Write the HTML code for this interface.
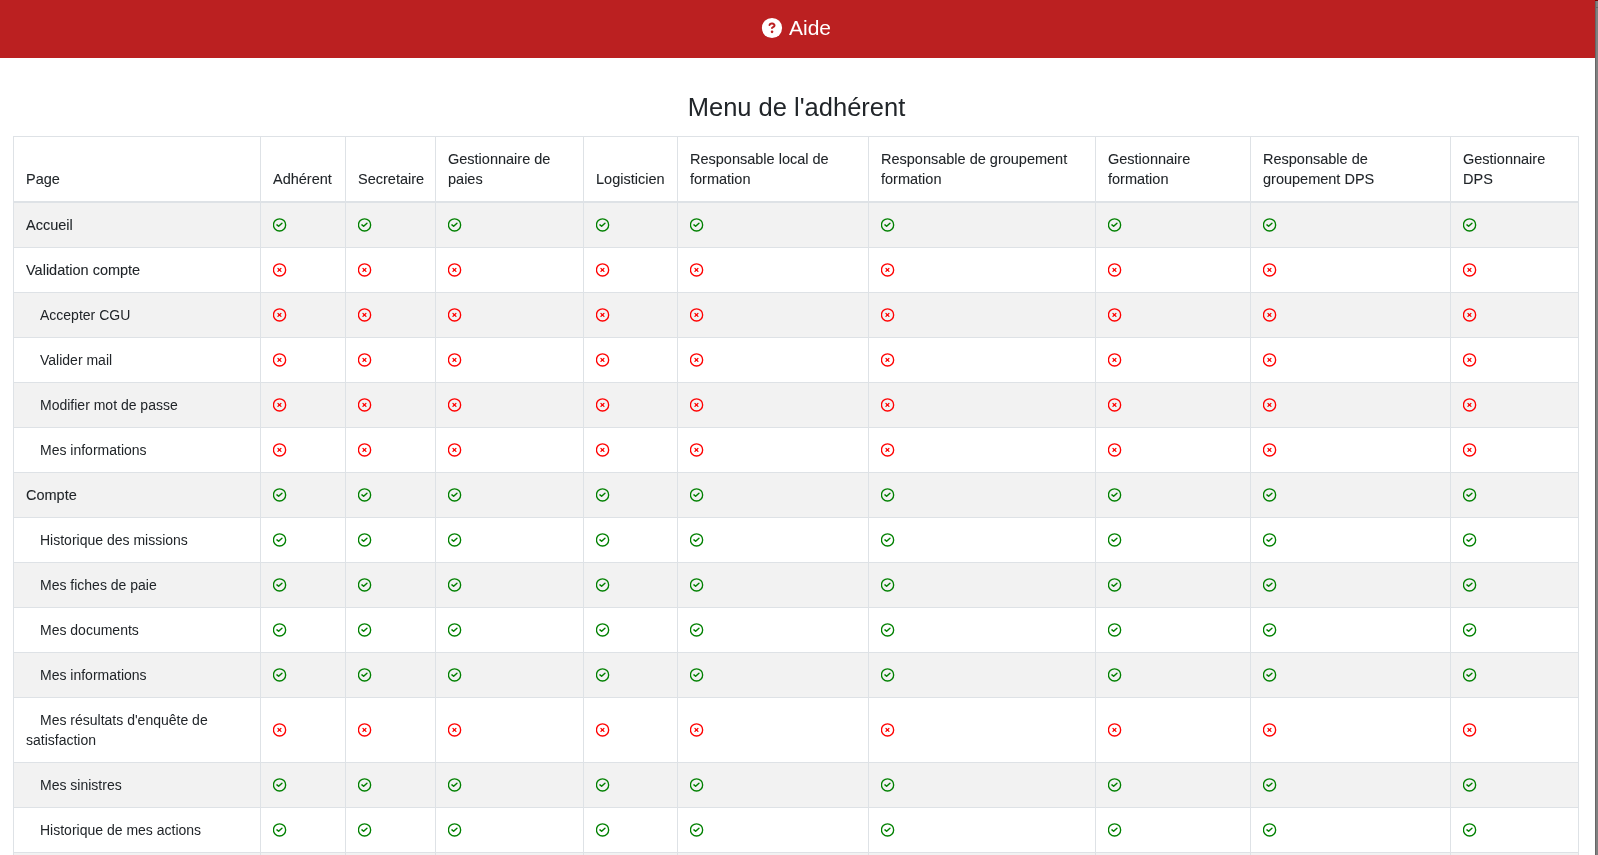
<!DOCTYPE html><html><head><meta charset="utf-8"><title>Aide</title><style>
*{box-sizing:border-box}
html,body{margin:0;padding:0;background:#fff;overflow:hidden}
body{width:1598px;height:855px;position:relative;font-family:"Liberation Sans",sans-serif;color:#212529;font-size:14px;line-height:20px}
.hdr{position:absolute;left:0;top:0;width:1595px;height:58px;background:#bb2021;color:#fff}
.hdr .q{position:absolute;left:760.7px;top:16.65px;width:22px;height:22px}
.hdr .t{will-change:transform;position:absolute;left:789px;top:14px;font-size:21px;line-height:28px;white-space:nowrap}
.sb{position:absolute;left:1595px;top:0;width:3px;height:855px;background:#808080;border-left:1px solid #666}
.sbt{position:absolute;left:1595px;top:0;width:3px;height:1px;background:#7a0000}
.sbl{position:absolute;left:1595px;top:7px;width:3px;height:1px;background:#666}
h1{position:absolute;left:-1px;width:1595px;top:90px;margin:0;text-align:center;font-weight:400;font-size:25.5px;line-height:34px;color:#212529;will-change:transform}
table{will-change:transform;position:absolute;left:13px;top:136px;border-collapse:collapse;table-layout:fixed;width:1566px}
td,th{border:1px solid #dee2e6;padding:12px 12px;vertical-align:middle;text-align:left;font-weight:400;white-space:nowrap;overflow:hidden}
th{vertical-align:bottom;border-bottom:2px solid #dee2e6;font-size:14.5px}
tbody tr:nth-child(odd) td{background:#f2f2f2}
.ic{display:block;width:14px;height:14px}
.in{text-indent:14px}
.b,th{-webkit-text-stroke:0.08px #212529}
.b{font-size:14.5px}
</style></head><body>
<div class="hdr"><svg class="q" viewBox="-11 -11 22 22"><circle cx="0" cy="0" r="10.1" fill="#fff"/><path d="M -2.5 -2.9 C -2.1 -4.3 -0.9 -4.6 0.2 -4.5 C 1.6 -4.4 2.6 -3.6 2.5 -2.4 C 2.4 -1.0 0.0 -0.9 0.0 0.1" fill="none" stroke="#bb2021" stroke-width="2" stroke-linecap="round" stroke-linejoin="round"/><circle cx="0.05" cy="3.85" r="1.3" fill="#bb2021"/></svg><span class="t">Aide</span></div>
<h1>Menu de l'adhérent</h1>
<table><colgroup><col style="width:247px"><col style="width:85px"><col style="width:90px"><col style="width:148px"><col style="width:94px"><col style="width:191px"><col style="width:227px"><col style="width:155px"><col style="width:200px"><col style="width:128px"></colgroup><thead><tr>
<th>Page</th>
<th>Adhérent</th>
<th>Secretaire</th>
<th>Gestionnaire de<br>paies</th>
<th>Logisticien</th>
<th>Responsable local de<br>formation</th>
<th>Responsable de groupement<br>formation</th>
<th>Gestionnaire<br>formation</th>
<th>Responsable de<br>groupement DPS</th>
<th>Gestionnaire<br>DPS</th>
</tr></thead><tbody>
<tr><td class="b">Accueil</td><td><svg class="ic" viewBox="0 0 14 14"><circle cx="6.55" cy="6.9" r="6.1" fill="none" stroke="#008000" stroke-width="1.35"/><path d="M3.95 6.85 L5.65 8.3 L8.95 5.3" fill="none" stroke="#008000" stroke-width="1.45" stroke-linecap="round" stroke-linejoin="round"/></svg></td><td><svg class="ic" viewBox="0 0 14 14"><circle cx="6.55" cy="6.9" r="6.1" fill="none" stroke="#008000" stroke-width="1.35"/><path d="M3.95 6.85 L5.65 8.3 L8.95 5.3" fill="none" stroke="#008000" stroke-width="1.45" stroke-linecap="round" stroke-linejoin="round"/></svg></td><td><svg class="ic" viewBox="0 0 14 14"><circle cx="6.55" cy="6.9" r="6.1" fill="none" stroke="#008000" stroke-width="1.35"/><path d="M3.95 6.85 L5.65 8.3 L8.95 5.3" fill="none" stroke="#008000" stroke-width="1.45" stroke-linecap="round" stroke-linejoin="round"/></svg></td><td><svg class="ic" viewBox="0 0 14 14"><circle cx="6.55" cy="6.9" r="6.1" fill="none" stroke="#008000" stroke-width="1.35"/><path d="M3.95 6.85 L5.65 8.3 L8.95 5.3" fill="none" stroke="#008000" stroke-width="1.45" stroke-linecap="round" stroke-linejoin="round"/></svg></td><td><svg class="ic" viewBox="0 0 14 14"><circle cx="6.55" cy="6.9" r="6.1" fill="none" stroke="#008000" stroke-width="1.35"/><path d="M3.95 6.85 L5.65 8.3 L8.95 5.3" fill="none" stroke="#008000" stroke-width="1.45" stroke-linecap="round" stroke-linejoin="round"/></svg></td><td><svg class="ic" viewBox="0 0 14 14"><circle cx="6.55" cy="6.9" r="6.1" fill="none" stroke="#008000" stroke-width="1.35"/><path d="M3.95 6.85 L5.65 8.3 L8.95 5.3" fill="none" stroke="#008000" stroke-width="1.45" stroke-linecap="round" stroke-linejoin="round"/></svg></td><td><svg class="ic" viewBox="0 0 14 14"><circle cx="6.55" cy="6.9" r="6.1" fill="none" stroke="#008000" stroke-width="1.35"/><path d="M3.95 6.85 L5.65 8.3 L8.95 5.3" fill="none" stroke="#008000" stroke-width="1.45" stroke-linecap="round" stroke-linejoin="round"/></svg></td><td><svg class="ic" viewBox="0 0 14 14"><circle cx="6.55" cy="6.9" r="6.1" fill="none" stroke="#008000" stroke-width="1.35"/><path d="M3.95 6.85 L5.65 8.3 L8.95 5.3" fill="none" stroke="#008000" stroke-width="1.45" stroke-linecap="round" stroke-linejoin="round"/></svg></td><td><svg class="ic" viewBox="0 0 14 14"><circle cx="6.55" cy="6.9" r="6.1" fill="none" stroke="#008000" stroke-width="1.35"/><path d="M3.95 6.85 L5.65 8.3 L8.95 5.3" fill="none" stroke="#008000" stroke-width="1.45" stroke-linecap="round" stroke-linejoin="round"/></svg></td></tr>
<tr><td class="b">Validation compte</td><td><svg class="ic" viewBox="0 0 14 14"><circle cx="6.55" cy="6.9" r="6.1" fill="none" stroke="#ff0000" stroke-width="1.35"/><path d="M4.95 5.4 L7.95 8.4 M7.95 5.4 L4.95 8.4" fill="none" stroke="#ff0000" stroke-width="1.3" stroke-linecap="round"/></svg></td><td><svg class="ic" viewBox="0 0 14 14"><circle cx="6.55" cy="6.9" r="6.1" fill="none" stroke="#ff0000" stroke-width="1.35"/><path d="M4.95 5.4 L7.95 8.4 M7.95 5.4 L4.95 8.4" fill="none" stroke="#ff0000" stroke-width="1.3" stroke-linecap="round"/></svg></td><td><svg class="ic" viewBox="0 0 14 14"><circle cx="6.55" cy="6.9" r="6.1" fill="none" stroke="#ff0000" stroke-width="1.35"/><path d="M4.95 5.4 L7.95 8.4 M7.95 5.4 L4.95 8.4" fill="none" stroke="#ff0000" stroke-width="1.3" stroke-linecap="round"/></svg></td><td><svg class="ic" viewBox="0 0 14 14"><circle cx="6.55" cy="6.9" r="6.1" fill="none" stroke="#ff0000" stroke-width="1.35"/><path d="M4.95 5.4 L7.95 8.4 M7.95 5.4 L4.95 8.4" fill="none" stroke="#ff0000" stroke-width="1.3" stroke-linecap="round"/></svg></td><td><svg class="ic" viewBox="0 0 14 14"><circle cx="6.55" cy="6.9" r="6.1" fill="none" stroke="#ff0000" stroke-width="1.35"/><path d="M4.95 5.4 L7.95 8.4 M7.95 5.4 L4.95 8.4" fill="none" stroke="#ff0000" stroke-width="1.3" stroke-linecap="round"/></svg></td><td><svg class="ic" viewBox="0 0 14 14"><circle cx="6.55" cy="6.9" r="6.1" fill="none" stroke="#ff0000" stroke-width="1.35"/><path d="M4.95 5.4 L7.95 8.4 M7.95 5.4 L4.95 8.4" fill="none" stroke="#ff0000" stroke-width="1.3" stroke-linecap="round"/></svg></td><td><svg class="ic" viewBox="0 0 14 14"><circle cx="6.55" cy="6.9" r="6.1" fill="none" stroke="#ff0000" stroke-width="1.35"/><path d="M4.95 5.4 L7.95 8.4 M7.95 5.4 L4.95 8.4" fill="none" stroke="#ff0000" stroke-width="1.3" stroke-linecap="round"/></svg></td><td><svg class="ic" viewBox="0 0 14 14"><circle cx="6.55" cy="6.9" r="6.1" fill="none" stroke="#ff0000" stroke-width="1.35"/><path d="M4.95 5.4 L7.95 8.4 M7.95 5.4 L4.95 8.4" fill="none" stroke="#ff0000" stroke-width="1.3" stroke-linecap="round"/></svg></td><td><svg class="ic" viewBox="0 0 14 14"><circle cx="6.55" cy="6.9" r="6.1" fill="none" stroke="#ff0000" stroke-width="1.35"/><path d="M4.95 5.4 L7.95 8.4 M7.95 5.4 L4.95 8.4" fill="none" stroke="#ff0000" stroke-width="1.3" stroke-linecap="round"/></svg></td></tr>
<tr><td class="in">Accepter CGU</td><td><svg class="ic" viewBox="0 0 14 14"><circle cx="6.55" cy="6.9" r="6.1" fill="none" stroke="#ff0000" stroke-width="1.35"/><path d="M4.95 5.4 L7.95 8.4 M7.95 5.4 L4.95 8.4" fill="none" stroke="#ff0000" stroke-width="1.3" stroke-linecap="round"/></svg></td><td><svg class="ic" viewBox="0 0 14 14"><circle cx="6.55" cy="6.9" r="6.1" fill="none" stroke="#ff0000" stroke-width="1.35"/><path d="M4.95 5.4 L7.95 8.4 M7.95 5.4 L4.95 8.4" fill="none" stroke="#ff0000" stroke-width="1.3" stroke-linecap="round"/></svg></td><td><svg class="ic" viewBox="0 0 14 14"><circle cx="6.55" cy="6.9" r="6.1" fill="none" stroke="#ff0000" stroke-width="1.35"/><path d="M4.95 5.4 L7.95 8.4 M7.95 5.4 L4.95 8.4" fill="none" stroke="#ff0000" stroke-width="1.3" stroke-linecap="round"/></svg></td><td><svg class="ic" viewBox="0 0 14 14"><circle cx="6.55" cy="6.9" r="6.1" fill="none" stroke="#ff0000" stroke-width="1.35"/><path d="M4.95 5.4 L7.95 8.4 M7.95 5.4 L4.95 8.4" fill="none" stroke="#ff0000" stroke-width="1.3" stroke-linecap="round"/></svg></td><td><svg class="ic" viewBox="0 0 14 14"><circle cx="6.55" cy="6.9" r="6.1" fill="none" stroke="#ff0000" stroke-width="1.35"/><path d="M4.95 5.4 L7.95 8.4 M7.95 5.4 L4.95 8.4" fill="none" stroke="#ff0000" stroke-width="1.3" stroke-linecap="round"/></svg></td><td><svg class="ic" viewBox="0 0 14 14"><circle cx="6.55" cy="6.9" r="6.1" fill="none" stroke="#ff0000" stroke-width="1.35"/><path d="M4.95 5.4 L7.95 8.4 M7.95 5.4 L4.95 8.4" fill="none" stroke="#ff0000" stroke-width="1.3" stroke-linecap="round"/></svg></td><td><svg class="ic" viewBox="0 0 14 14"><circle cx="6.55" cy="6.9" r="6.1" fill="none" stroke="#ff0000" stroke-width="1.35"/><path d="M4.95 5.4 L7.95 8.4 M7.95 5.4 L4.95 8.4" fill="none" stroke="#ff0000" stroke-width="1.3" stroke-linecap="round"/></svg></td><td><svg class="ic" viewBox="0 0 14 14"><circle cx="6.55" cy="6.9" r="6.1" fill="none" stroke="#ff0000" stroke-width="1.35"/><path d="M4.95 5.4 L7.95 8.4 M7.95 5.4 L4.95 8.4" fill="none" stroke="#ff0000" stroke-width="1.3" stroke-linecap="round"/></svg></td><td><svg class="ic" viewBox="0 0 14 14"><circle cx="6.55" cy="6.9" r="6.1" fill="none" stroke="#ff0000" stroke-width="1.35"/><path d="M4.95 5.4 L7.95 8.4 M7.95 5.4 L4.95 8.4" fill="none" stroke="#ff0000" stroke-width="1.3" stroke-linecap="round"/></svg></td></tr>
<tr><td class="in">Valider mail</td><td><svg class="ic" viewBox="0 0 14 14"><circle cx="6.55" cy="6.9" r="6.1" fill="none" stroke="#ff0000" stroke-width="1.35"/><path d="M4.95 5.4 L7.95 8.4 M7.95 5.4 L4.95 8.4" fill="none" stroke="#ff0000" stroke-width="1.3" stroke-linecap="round"/></svg></td><td><svg class="ic" viewBox="0 0 14 14"><circle cx="6.55" cy="6.9" r="6.1" fill="none" stroke="#ff0000" stroke-width="1.35"/><path d="M4.95 5.4 L7.95 8.4 M7.95 5.4 L4.95 8.4" fill="none" stroke="#ff0000" stroke-width="1.3" stroke-linecap="round"/></svg></td><td><svg class="ic" viewBox="0 0 14 14"><circle cx="6.55" cy="6.9" r="6.1" fill="none" stroke="#ff0000" stroke-width="1.35"/><path d="M4.95 5.4 L7.95 8.4 M7.95 5.4 L4.95 8.4" fill="none" stroke="#ff0000" stroke-width="1.3" stroke-linecap="round"/></svg></td><td><svg class="ic" viewBox="0 0 14 14"><circle cx="6.55" cy="6.9" r="6.1" fill="none" stroke="#ff0000" stroke-width="1.35"/><path d="M4.95 5.4 L7.95 8.4 M7.95 5.4 L4.95 8.4" fill="none" stroke="#ff0000" stroke-width="1.3" stroke-linecap="round"/></svg></td><td><svg class="ic" viewBox="0 0 14 14"><circle cx="6.55" cy="6.9" r="6.1" fill="none" stroke="#ff0000" stroke-width="1.35"/><path d="M4.95 5.4 L7.95 8.4 M7.95 5.4 L4.95 8.4" fill="none" stroke="#ff0000" stroke-width="1.3" stroke-linecap="round"/></svg></td><td><svg class="ic" viewBox="0 0 14 14"><circle cx="6.55" cy="6.9" r="6.1" fill="none" stroke="#ff0000" stroke-width="1.35"/><path d="M4.95 5.4 L7.95 8.4 M7.95 5.4 L4.95 8.4" fill="none" stroke="#ff0000" stroke-width="1.3" stroke-linecap="round"/></svg></td><td><svg class="ic" viewBox="0 0 14 14"><circle cx="6.55" cy="6.9" r="6.1" fill="none" stroke="#ff0000" stroke-width="1.35"/><path d="M4.95 5.4 L7.95 8.4 M7.95 5.4 L4.95 8.4" fill="none" stroke="#ff0000" stroke-width="1.3" stroke-linecap="round"/></svg></td><td><svg class="ic" viewBox="0 0 14 14"><circle cx="6.55" cy="6.9" r="6.1" fill="none" stroke="#ff0000" stroke-width="1.35"/><path d="M4.95 5.4 L7.95 8.4 M7.95 5.4 L4.95 8.4" fill="none" stroke="#ff0000" stroke-width="1.3" stroke-linecap="round"/></svg></td><td><svg class="ic" viewBox="0 0 14 14"><circle cx="6.55" cy="6.9" r="6.1" fill="none" stroke="#ff0000" stroke-width="1.35"/><path d="M4.95 5.4 L7.95 8.4 M7.95 5.4 L4.95 8.4" fill="none" stroke="#ff0000" stroke-width="1.3" stroke-linecap="round"/></svg></td></tr>
<tr><td class="in">Modifier mot de passe</td><td><svg class="ic" viewBox="0 0 14 14"><circle cx="6.55" cy="6.9" r="6.1" fill="none" stroke="#ff0000" stroke-width="1.35"/><path d="M4.95 5.4 L7.95 8.4 M7.95 5.4 L4.95 8.4" fill="none" stroke="#ff0000" stroke-width="1.3" stroke-linecap="round"/></svg></td><td><svg class="ic" viewBox="0 0 14 14"><circle cx="6.55" cy="6.9" r="6.1" fill="none" stroke="#ff0000" stroke-width="1.35"/><path d="M4.95 5.4 L7.95 8.4 M7.95 5.4 L4.95 8.4" fill="none" stroke="#ff0000" stroke-width="1.3" stroke-linecap="round"/></svg></td><td><svg class="ic" viewBox="0 0 14 14"><circle cx="6.55" cy="6.9" r="6.1" fill="none" stroke="#ff0000" stroke-width="1.35"/><path d="M4.95 5.4 L7.95 8.4 M7.95 5.4 L4.95 8.4" fill="none" stroke="#ff0000" stroke-width="1.3" stroke-linecap="round"/></svg></td><td><svg class="ic" viewBox="0 0 14 14"><circle cx="6.55" cy="6.9" r="6.1" fill="none" stroke="#ff0000" stroke-width="1.35"/><path d="M4.95 5.4 L7.95 8.4 M7.95 5.4 L4.95 8.4" fill="none" stroke="#ff0000" stroke-width="1.3" stroke-linecap="round"/></svg></td><td><svg class="ic" viewBox="0 0 14 14"><circle cx="6.55" cy="6.9" r="6.1" fill="none" stroke="#ff0000" stroke-width="1.35"/><path d="M4.95 5.4 L7.95 8.4 M7.95 5.4 L4.95 8.4" fill="none" stroke="#ff0000" stroke-width="1.3" stroke-linecap="round"/></svg></td><td><svg class="ic" viewBox="0 0 14 14"><circle cx="6.55" cy="6.9" r="6.1" fill="none" stroke="#ff0000" stroke-width="1.35"/><path d="M4.95 5.4 L7.95 8.4 M7.95 5.4 L4.95 8.4" fill="none" stroke="#ff0000" stroke-width="1.3" stroke-linecap="round"/></svg></td><td><svg class="ic" viewBox="0 0 14 14"><circle cx="6.55" cy="6.9" r="6.1" fill="none" stroke="#ff0000" stroke-width="1.35"/><path d="M4.95 5.4 L7.95 8.4 M7.95 5.4 L4.95 8.4" fill="none" stroke="#ff0000" stroke-width="1.3" stroke-linecap="round"/></svg></td><td><svg class="ic" viewBox="0 0 14 14"><circle cx="6.55" cy="6.9" r="6.1" fill="none" stroke="#ff0000" stroke-width="1.35"/><path d="M4.95 5.4 L7.95 8.4 M7.95 5.4 L4.95 8.4" fill="none" stroke="#ff0000" stroke-width="1.3" stroke-linecap="round"/></svg></td><td><svg class="ic" viewBox="0 0 14 14"><circle cx="6.55" cy="6.9" r="6.1" fill="none" stroke="#ff0000" stroke-width="1.35"/><path d="M4.95 5.4 L7.95 8.4 M7.95 5.4 L4.95 8.4" fill="none" stroke="#ff0000" stroke-width="1.3" stroke-linecap="round"/></svg></td></tr>
<tr><td class="in">Mes informations</td><td><svg class="ic" viewBox="0 0 14 14"><circle cx="6.55" cy="6.9" r="6.1" fill="none" stroke="#ff0000" stroke-width="1.35"/><path d="M4.95 5.4 L7.95 8.4 M7.95 5.4 L4.95 8.4" fill="none" stroke="#ff0000" stroke-width="1.3" stroke-linecap="round"/></svg></td><td><svg class="ic" viewBox="0 0 14 14"><circle cx="6.55" cy="6.9" r="6.1" fill="none" stroke="#ff0000" stroke-width="1.35"/><path d="M4.95 5.4 L7.95 8.4 M7.95 5.4 L4.95 8.4" fill="none" stroke="#ff0000" stroke-width="1.3" stroke-linecap="round"/></svg></td><td><svg class="ic" viewBox="0 0 14 14"><circle cx="6.55" cy="6.9" r="6.1" fill="none" stroke="#ff0000" stroke-width="1.35"/><path d="M4.95 5.4 L7.95 8.4 M7.95 5.4 L4.95 8.4" fill="none" stroke="#ff0000" stroke-width="1.3" stroke-linecap="round"/></svg></td><td><svg class="ic" viewBox="0 0 14 14"><circle cx="6.55" cy="6.9" r="6.1" fill="none" stroke="#ff0000" stroke-width="1.35"/><path d="M4.95 5.4 L7.95 8.4 M7.95 5.4 L4.95 8.4" fill="none" stroke="#ff0000" stroke-width="1.3" stroke-linecap="round"/></svg></td><td><svg class="ic" viewBox="0 0 14 14"><circle cx="6.55" cy="6.9" r="6.1" fill="none" stroke="#ff0000" stroke-width="1.35"/><path d="M4.95 5.4 L7.95 8.4 M7.95 5.4 L4.95 8.4" fill="none" stroke="#ff0000" stroke-width="1.3" stroke-linecap="round"/></svg></td><td><svg class="ic" viewBox="0 0 14 14"><circle cx="6.55" cy="6.9" r="6.1" fill="none" stroke="#ff0000" stroke-width="1.35"/><path d="M4.95 5.4 L7.95 8.4 M7.95 5.4 L4.95 8.4" fill="none" stroke="#ff0000" stroke-width="1.3" stroke-linecap="round"/></svg></td><td><svg class="ic" viewBox="0 0 14 14"><circle cx="6.55" cy="6.9" r="6.1" fill="none" stroke="#ff0000" stroke-width="1.35"/><path d="M4.95 5.4 L7.95 8.4 M7.95 5.4 L4.95 8.4" fill="none" stroke="#ff0000" stroke-width="1.3" stroke-linecap="round"/></svg></td><td><svg class="ic" viewBox="0 0 14 14"><circle cx="6.55" cy="6.9" r="6.1" fill="none" stroke="#ff0000" stroke-width="1.35"/><path d="M4.95 5.4 L7.95 8.4 M7.95 5.4 L4.95 8.4" fill="none" stroke="#ff0000" stroke-width="1.3" stroke-linecap="round"/></svg></td><td><svg class="ic" viewBox="0 0 14 14"><circle cx="6.55" cy="6.9" r="6.1" fill="none" stroke="#ff0000" stroke-width="1.35"/><path d="M4.95 5.4 L7.95 8.4 M7.95 5.4 L4.95 8.4" fill="none" stroke="#ff0000" stroke-width="1.3" stroke-linecap="round"/></svg></td></tr>
<tr><td class="b">Compte</td><td><svg class="ic" viewBox="0 0 14 14"><circle cx="6.55" cy="6.9" r="6.1" fill="none" stroke="#008000" stroke-width="1.35"/><path d="M3.95 6.85 L5.65 8.3 L8.95 5.3" fill="none" stroke="#008000" stroke-width="1.45" stroke-linecap="round" stroke-linejoin="round"/></svg></td><td><svg class="ic" viewBox="0 0 14 14"><circle cx="6.55" cy="6.9" r="6.1" fill="none" stroke="#008000" stroke-width="1.35"/><path d="M3.95 6.85 L5.65 8.3 L8.95 5.3" fill="none" stroke="#008000" stroke-width="1.45" stroke-linecap="round" stroke-linejoin="round"/></svg></td><td><svg class="ic" viewBox="0 0 14 14"><circle cx="6.55" cy="6.9" r="6.1" fill="none" stroke="#008000" stroke-width="1.35"/><path d="M3.95 6.85 L5.65 8.3 L8.95 5.3" fill="none" stroke="#008000" stroke-width="1.45" stroke-linecap="round" stroke-linejoin="round"/></svg></td><td><svg class="ic" viewBox="0 0 14 14"><circle cx="6.55" cy="6.9" r="6.1" fill="none" stroke="#008000" stroke-width="1.35"/><path d="M3.95 6.85 L5.65 8.3 L8.95 5.3" fill="none" stroke="#008000" stroke-width="1.45" stroke-linecap="round" stroke-linejoin="round"/></svg></td><td><svg class="ic" viewBox="0 0 14 14"><circle cx="6.55" cy="6.9" r="6.1" fill="none" stroke="#008000" stroke-width="1.35"/><path d="M3.95 6.85 L5.65 8.3 L8.95 5.3" fill="none" stroke="#008000" stroke-width="1.45" stroke-linecap="round" stroke-linejoin="round"/></svg></td><td><svg class="ic" viewBox="0 0 14 14"><circle cx="6.55" cy="6.9" r="6.1" fill="none" stroke="#008000" stroke-width="1.35"/><path d="M3.95 6.85 L5.65 8.3 L8.95 5.3" fill="none" stroke="#008000" stroke-width="1.45" stroke-linecap="round" stroke-linejoin="round"/></svg></td><td><svg class="ic" viewBox="0 0 14 14"><circle cx="6.55" cy="6.9" r="6.1" fill="none" stroke="#008000" stroke-width="1.35"/><path d="M3.95 6.85 L5.65 8.3 L8.95 5.3" fill="none" stroke="#008000" stroke-width="1.45" stroke-linecap="round" stroke-linejoin="round"/></svg></td><td><svg class="ic" viewBox="0 0 14 14"><circle cx="6.55" cy="6.9" r="6.1" fill="none" stroke="#008000" stroke-width="1.35"/><path d="M3.95 6.85 L5.65 8.3 L8.95 5.3" fill="none" stroke="#008000" stroke-width="1.45" stroke-linecap="round" stroke-linejoin="round"/></svg></td><td><svg class="ic" viewBox="0 0 14 14"><circle cx="6.55" cy="6.9" r="6.1" fill="none" stroke="#008000" stroke-width="1.35"/><path d="M3.95 6.85 L5.65 8.3 L8.95 5.3" fill="none" stroke="#008000" stroke-width="1.45" stroke-linecap="round" stroke-linejoin="round"/></svg></td></tr>
<tr><td class="in">Historique des missions</td><td><svg class="ic" viewBox="0 0 14 14"><circle cx="6.55" cy="6.9" r="6.1" fill="none" stroke="#008000" stroke-width="1.35"/><path d="M3.95 6.85 L5.65 8.3 L8.95 5.3" fill="none" stroke="#008000" stroke-width="1.45" stroke-linecap="round" stroke-linejoin="round"/></svg></td><td><svg class="ic" viewBox="0 0 14 14"><circle cx="6.55" cy="6.9" r="6.1" fill="none" stroke="#008000" stroke-width="1.35"/><path d="M3.95 6.85 L5.65 8.3 L8.95 5.3" fill="none" stroke="#008000" stroke-width="1.45" stroke-linecap="round" stroke-linejoin="round"/></svg></td><td><svg class="ic" viewBox="0 0 14 14"><circle cx="6.55" cy="6.9" r="6.1" fill="none" stroke="#008000" stroke-width="1.35"/><path d="M3.95 6.85 L5.65 8.3 L8.95 5.3" fill="none" stroke="#008000" stroke-width="1.45" stroke-linecap="round" stroke-linejoin="round"/></svg></td><td><svg class="ic" viewBox="0 0 14 14"><circle cx="6.55" cy="6.9" r="6.1" fill="none" stroke="#008000" stroke-width="1.35"/><path d="M3.95 6.85 L5.65 8.3 L8.95 5.3" fill="none" stroke="#008000" stroke-width="1.45" stroke-linecap="round" stroke-linejoin="round"/></svg></td><td><svg class="ic" viewBox="0 0 14 14"><circle cx="6.55" cy="6.9" r="6.1" fill="none" stroke="#008000" stroke-width="1.35"/><path d="M3.95 6.85 L5.65 8.3 L8.95 5.3" fill="none" stroke="#008000" stroke-width="1.45" stroke-linecap="round" stroke-linejoin="round"/></svg></td><td><svg class="ic" viewBox="0 0 14 14"><circle cx="6.55" cy="6.9" r="6.1" fill="none" stroke="#008000" stroke-width="1.35"/><path d="M3.95 6.85 L5.65 8.3 L8.95 5.3" fill="none" stroke="#008000" stroke-width="1.45" stroke-linecap="round" stroke-linejoin="round"/></svg></td><td><svg class="ic" viewBox="0 0 14 14"><circle cx="6.55" cy="6.9" r="6.1" fill="none" stroke="#008000" stroke-width="1.35"/><path d="M3.95 6.85 L5.65 8.3 L8.95 5.3" fill="none" stroke="#008000" stroke-width="1.45" stroke-linecap="round" stroke-linejoin="round"/></svg></td><td><svg class="ic" viewBox="0 0 14 14"><circle cx="6.55" cy="6.9" r="6.1" fill="none" stroke="#008000" stroke-width="1.35"/><path d="M3.95 6.85 L5.65 8.3 L8.95 5.3" fill="none" stroke="#008000" stroke-width="1.45" stroke-linecap="round" stroke-linejoin="round"/></svg></td><td><svg class="ic" viewBox="0 0 14 14"><circle cx="6.55" cy="6.9" r="6.1" fill="none" stroke="#008000" stroke-width="1.35"/><path d="M3.95 6.85 L5.65 8.3 L8.95 5.3" fill="none" stroke="#008000" stroke-width="1.45" stroke-linecap="round" stroke-linejoin="round"/></svg></td></tr>
<tr><td class="in">Mes fiches de paie</td><td><svg class="ic" viewBox="0 0 14 14"><circle cx="6.55" cy="6.9" r="6.1" fill="none" stroke="#008000" stroke-width="1.35"/><path d="M3.95 6.85 L5.65 8.3 L8.95 5.3" fill="none" stroke="#008000" stroke-width="1.45" stroke-linecap="round" stroke-linejoin="round"/></svg></td><td><svg class="ic" viewBox="0 0 14 14"><circle cx="6.55" cy="6.9" r="6.1" fill="none" stroke="#008000" stroke-width="1.35"/><path d="M3.95 6.85 L5.65 8.3 L8.95 5.3" fill="none" stroke="#008000" stroke-width="1.45" stroke-linecap="round" stroke-linejoin="round"/></svg></td><td><svg class="ic" viewBox="0 0 14 14"><circle cx="6.55" cy="6.9" r="6.1" fill="none" stroke="#008000" stroke-width="1.35"/><path d="M3.95 6.85 L5.65 8.3 L8.95 5.3" fill="none" stroke="#008000" stroke-width="1.45" stroke-linecap="round" stroke-linejoin="round"/></svg></td><td><svg class="ic" viewBox="0 0 14 14"><circle cx="6.55" cy="6.9" r="6.1" fill="none" stroke="#008000" stroke-width="1.35"/><path d="M3.95 6.85 L5.65 8.3 L8.95 5.3" fill="none" stroke="#008000" stroke-width="1.45" stroke-linecap="round" stroke-linejoin="round"/></svg></td><td><svg class="ic" viewBox="0 0 14 14"><circle cx="6.55" cy="6.9" r="6.1" fill="none" stroke="#008000" stroke-width="1.35"/><path d="M3.95 6.85 L5.65 8.3 L8.95 5.3" fill="none" stroke="#008000" stroke-width="1.45" stroke-linecap="round" stroke-linejoin="round"/></svg></td><td><svg class="ic" viewBox="0 0 14 14"><circle cx="6.55" cy="6.9" r="6.1" fill="none" stroke="#008000" stroke-width="1.35"/><path d="M3.95 6.85 L5.65 8.3 L8.95 5.3" fill="none" stroke="#008000" stroke-width="1.45" stroke-linecap="round" stroke-linejoin="round"/></svg></td><td><svg class="ic" viewBox="0 0 14 14"><circle cx="6.55" cy="6.9" r="6.1" fill="none" stroke="#008000" stroke-width="1.35"/><path d="M3.95 6.85 L5.65 8.3 L8.95 5.3" fill="none" stroke="#008000" stroke-width="1.45" stroke-linecap="round" stroke-linejoin="round"/></svg></td><td><svg class="ic" viewBox="0 0 14 14"><circle cx="6.55" cy="6.9" r="6.1" fill="none" stroke="#008000" stroke-width="1.35"/><path d="M3.95 6.85 L5.65 8.3 L8.95 5.3" fill="none" stroke="#008000" stroke-width="1.45" stroke-linecap="round" stroke-linejoin="round"/></svg></td><td><svg class="ic" viewBox="0 0 14 14"><circle cx="6.55" cy="6.9" r="6.1" fill="none" stroke="#008000" stroke-width="1.35"/><path d="M3.95 6.85 L5.65 8.3 L8.95 5.3" fill="none" stroke="#008000" stroke-width="1.45" stroke-linecap="round" stroke-linejoin="round"/></svg></td></tr>
<tr><td class="in">Mes documents</td><td><svg class="ic" viewBox="0 0 14 14"><circle cx="6.55" cy="6.9" r="6.1" fill="none" stroke="#008000" stroke-width="1.35"/><path d="M3.95 6.85 L5.65 8.3 L8.95 5.3" fill="none" stroke="#008000" stroke-width="1.45" stroke-linecap="round" stroke-linejoin="round"/></svg></td><td><svg class="ic" viewBox="0 0 14 14"><circle cx="6.55" cy="6.9" r="6.1" fill="none" stroke="#008000" stroke-width="1.35"/><path d="M3.95 6.85 L5.65 8.3 L8.95 5.3" fill="none" stroke="#008000" stroke-width="1.45" stroke-linecap="round" stroke-linejoin="round"/></svg></td><td><svg class="ic" viewBox="0 0 14 14"><circle cx="6.55" cy="6.9" r="6.1" fill="none" stroke="#008000" stroke-width="1.35"/><path d="M3.95 6.85 L5.65 8.3 L8.95 5.3" fill="none" stroke="#008000" stroke-width="1.45" stroke-linecap="round" stroke-linejoin="round"/></svg></td><td><svg class="ic" viewBox="0 0 14 14"><circle cx="6.55" cy="6.9" r="6.1" fill="none" stroke="#008000" stroke-width="1.35"/><path d="M3.95 6.85 L5.65 8.3 L8.95 5.3" fill="none" stroke="#008000" stroke-width="1.45" stroke-linecap="round" stroke-linejoin="round"/></svg></td><td><svg class="ic" viewBox="0 0 14 14"><circle cx="6.55" cy="6.9" r="6.1" fill="none" stroke="#008000" stroke-width="1.35"/><path d="M3.95 6.85 L5.65 8.3 L8.95 5.3" fill="none" stroke="#008000" stroke-width="1.45" stroke-linecap="round" stroke-linejoin="round"/></svg></td><td><svg class="ic" viewBox="0 0 14 14"><circle cx="6.55" cy="6.9" r="6.1" fill="none" stroke="#008000" stroke-width="1.35"/><path d="M3.95 6.85 L5.65 8.3 L8.95 5.3" fill="none" stroke="#008000" stroke-width="1.45" stroke-linecap="round" stroke-linejoin="round"/></svg></td><td><svg class="ic" viewBox="0 0 14 14"><circle cx="6.55" cy="6.9" r="6.1" fill="none" stroke="#008000" stroke-width="1.35"/><path d="M3.95 6.85 L5.65 8.3 L8.95 5.3" fill="none" stroke="#008000" stroke-width="1.45" stroke-linecap="round" stroke-linejoin="round"/></svg></td><td><svg class="ic" viewBox="0 0 14 14"><circle cx="6.55" cy="6.9" r="6.1" fill="none" stroke="#008000" stroke-width="1.35"/><path d="M3.95 6.85 L5.65 8.3 L8.95 5.3" fill="none" stroke="#008000" stroke-width="1.45" stroke-linecap="round" stroke-linejoin="round"/></svg></td><td><svg class="ic" viewBox="0 0 14 14"><circle cx="6.55" cy="6.9" r="6.1" fill="none" stroke="#008000" stroke-width="1.35"/><path d="M3.95 6.85 L5.65 8.3 L8.95 5.3" fill="none" stroke="#008000" stroke-width="1.45" stroke-linecap="round" stroke-linejoin="round"/></svg></td></tr>
<tr><td class="in">Mes informations</td><td><svg class="ic" viewBox="0 0 14 14"><circle cx="6.55" cy="6.9" r="6.1" fill="none" stroke="#008000" stroke-width="1.35"/><path d="M3.95 6.85 L5.65 8.3 L8.95 5.3" fill="none" stroke="#008000" stroke-width="1.45" stroke-linecap="round" stroke-linejoin="round"/></svg></td><td><svg class="ic" viewBox="0 0 14 14"><circle cx="6.55" cy="6.9" r="6.1" fill="none" stroke="#008000" stroke-width="1.35"/><path d="M3.95 6.85 L5.65 8.3 L8.95 5.3" fill="none" stroke="#008000" stroke-width="1.45" stroke-linecap="round" stroke-linejoin="round"/></svg></td><td><svg class="ic" viewBox="0 0 14 14"><circle cx="6.55" cy="6.9" r="6.1" fill="none" stroke="#008000" stroke-width="1.35"/><path d="M3.95 6.85 L5.65 8.3 L8.95 5.3" fill="none" stroke="#008000" stroke-width="1.45" stroke-linecap="round" stroke-linejoin="round"/></svg></td><td><svg class="ic" viewBox="0 0 14 14"><circle cx="6.55" cy="6.9" r="6.1" fill="none" stroke="#008000" stroke-width="1.35"/><path d="M3.95 6.85 L5.65 8.3 L8.95 5.3" fill="none" stroke="#008000" stroke-width="1.45" stroke-linecap="round" stroke-linejoin="round"/></svg></td><td><svg class="ic" viewBox="0 0 14 14"><circle cx="6.55" cy="6.9" r="6.1" fill="none" stroke="#008000" stroke-width="1.35"/><path d="M3.95 6.85 L5.65 8.3 L8.95 5.3" fill="none" stroke="#008000" stroke-width="1.45" stroke-linecap="round" stroke-linejoin="round"/></svg></td><td><svg class="ic" viewBox="0 0 14 14"><circle cx="6.55" cy="6.9" r="6.1" fill="none" stroke="#008000" stroke-width="1.35"/><path d="M3.95 6.85 L5.65 8.3 L8.95 5.3" fill="none" stroke="#008000" stroke-width="1.45" stroke-linecap="round" stroke-linejoin="round"/></svg></td><td><svg class="ic" viewBox="0 0 14 14"><circle cx="6.55" cy="6.9" r="6.1" fill="none" stroke="#008000" stroke-width="1.35"/><path d="M3.95 6.85 L5.65 8.3 L8.95 5.3" fill="none" stroke="#008000" stroke-width="1.45" stroke-linecap="round" stroke-linejoin="round"/></svg></td><td><svg class="ic" viewBox="0 0 14 14"><circle cx="6.55" cy="6.9" r="6.1" fill="none" stroke="#008000" stroke-width="1.35"/><path d="M3.95 6.85 L5.65 8.3 L8.95 5.3" fill="none" stroke="#008000" stroke-width="1.45" stroke-linecap="round" stroke-linejoin="round"/></svg></td><td><svg class="ic" viewBox="0 0 14 14"><circle cx="6.55" cy="6.9" r="6.1" fill="none" stroke="#008000" stroke-width="1.35"/><path d="M3.95 6.85 L5.65 8.3 L8.95 5.3" fill="none" stroke="#008000" stroke-width="1.45" stroke-linecap="round" stroke-linejoin="round"/></svg></td></tr>
<tr><td class="in">Mes résultats d'enquête de<br>satisfaction</td><td><svg class="ic" viewBox="0 0 14 14"><circle cx="6.55" cy="6.9" r="6.1" fill="none" stroke="#ff0000" stroke-width="1.35"/><path d="M4.95 5.4 L7.95 8.4 M7.95 5.4 L4.95 8.4" fill="none" stroke="#ff0000" stroke-width="1.3" stroke-linecap="round"/></svg></td><td><svg class="ic" viewBox="0 0 14 14"><circle cx="6.55" cy="6.9" r="6.1" fill="none" stroke="#ff0000" stroke-width="1.35"/><path d="M4.95 5.4 L7.95 8.4 M7.95 5.4 L4.95 8.4" fill="none" stroke="#ff0000" stroke-width="1.3" stroke-linecap="round"/></svg></td><td><svg class="ic" viewBox="0 0 14 14"><circle cx="6.55" cy="6.9" r="6.1" fill="none" stroke="#ff0000" stroke-width="1.35"/><path d="M4.95 5.4 L7.95 8.4 M7.95 5.4 L4.95 8.4" fill="none" stroke="#ff0000" stroke-width="1.3" stroke-linecap="round"/></svg></td><td><svg class="ic" viewBox="0 0 14 14"><circle cx="6.55" cy="6.9" r="6.1" fill="none" stroke="#ff0000" stroke-width="1.35"/><path d="M4.95 5.4 L7.95 8.4 M7.95 5.4 L4.95 8.4" fill="none" stroke="#ff0000" stroke-width="1.3" stroke-linecap="round"/></svg></td><td><svg class="ic" viewBox="0 0 14 14"><circle cx="6.55" cy="6.9" r="6.1" fill="none" stroke="#ff0000" stroke-width="1.35"/><path d="M4.95 5.4 L7.95 8.4 M7.95 5.4 L4.95 8.4" fill="none" stroke="#ff0000" stroke-width="1.3" stroke-linecap="round"/></svg></td><td><svg class="ic" viewBox="0 0 14 14"><circle cx="6.55" cy="6.9" r="6.1" fill="none" stroke="#ff0000" stroke-width="1.35"/><path d="M4.95 5.4 L7.95 8.4 M7.95 5.4 L4.95 8.4" fill="none" stroke="#ff0000" stroke-width="1.3" stroke-linecap="round"/></svg></td><td><svg class="ic" viewBox="0 0 14 14"><circle cx="6.55" cy="6.9" r="6.1" fill="none" stroke="#ff0000" stroke-width="1.35"/><path d="M4.95 5.4 L7.95 8.4 M7.95 5.4 L4.95 8.4" fill="none" stroke="#ff0000" stroke-width="1.3" stroke-linecap="round"/></svg></td><td><svg class="ic" viewBox="0 0 14 14"><circle cx="6.55" cy="6.9" r="6.1" fill="none" stroke="#ff0000" stroke-width="1.35"/><path d="M4.95 5.4 L7.95 8.4 M7.95 5.4 L4.95 8.4" fill="none" stroke="#ff0000" stroke-width="1.3" stroke-linecap="round"/></svg></td><td><svg class="ic" viewBox="0 0 14 14"><circle cx="6.55" cy="6.9" r="6.1" fill="none" stroke="#ff0000" stroke-width="1.35"/><path d="M4.95 5.4 L7.95 8.4 M7.95 5.4 L4.95 8.4" fill="none" stroke="#ff0000" stroke-width="1.3" stroke-linecap="round"/></svg></td></tr>
<tr><td class="in">Mes sinistres</td><td><svg class="ic" viewBox="0 0 14 14"><circle cx="6.55" cy="6.9" r="6.1" fill="none" stroke="#008000" stroke-width="1.35"/><path d="M3.95 6.85 L5.65 8.3 L8.95 5.3" fill="none" stroke="#008000" stroke-width="1.45" stroke-linecap="round" stroke-linejoin="round"/></svg></td><td><svg class="ic" viewBox="0 0 14 14"><circle cx="6.55" cy="6.9" r="6.1" fill="none" stroke="#008000" stroke-width="1.35"/><path d="M3.95 6.85 L5.65 8.3 L8.95 5.3" fill="none" stroke="#008000" stroke-width="1.45" stroke-linecap="round" stroke-linejoin="round"/></svg></td><td><svg class="ic" viewBox="0 0 14 14"><circle cx="6.55" cy="6.9" r="6.1" fill="none" stroke="#008000" stroke-width="1.35"/><path d="M3.95 6.85 L5.65 8.3 L8.95 5.3" fill="none" stroke="#008000" stroke-width="1.45" stroke-linecap="round" stroke-linejoin="round"/></svg></td><td><svg class="ic" viewBox="0 0 14 14"><circle cx="6.55" cy="6.9" r="6.1" fill="none" stroke="#008000" stroke-width="1.35"/><path d="M3.95 6.85 L5.65 8.3 L8.95 5.3" fill="none" stroke="#008000" stroke-width="1.45" stroke-linecap="round" stroke-linejoin="round"/></svg></td><td><svg class="ic" viewBox="0 0 14 14"><circle cx="6.55" cy="6.9" r="6.1" fill="none" stroke="#008000" stroke-width="1.35"/><path d="M3.95 6.85 L5.65 8.3 L8.95 5.3" fill="none" stroke="#008000" stroke-width="1.45" stroke-linecap="round" stroke-linejoin="round"/></svg></td><td><svg class="ic" viewBox="0 0 14 14"><circle cx="6.55" cy="6.9" r="6.1" fill="none" stroke="#008000" stroke-width="1.35"/><path d="M3.95 6.85 L5.65 8.3 L8.95 5.3" fill="none" stroke="#008000" stroke-width="1.45" stroke-linecap="round" stroke-linejoin="round"/></svg></td><td><svg class="ic" viewBox="0 0 14 14"><circle cx="6.55" cy="6.9" r="6.1" fill="none" stroke="#008000" stroke-width="1.35"/><path d="M3.95 6.85 L5.65 8.3 L8.95 5.3" fill="none" stroke="#008000" stroke-width="1.45" stroke-linecap="round" stroke-linejoin="round"/></svg></td><td><svg class="ic" viewBox="0 0 14 14"><circle cx="6.55" cy="6.9" r="6.1" fill="none" stroke="#008000" stroke-width="1.35"/><path d="M3.95 6.85 L5.65 8.3 L8.95 5.3" fill="none" stroke="#008000" stroke-width="1.45" stroke-linecap="round" stroke-linejoin="round"/></svg></td><td><svg class="ic" viewBox="0 0 14 14"><circle cx="6.55" cy="6.9" r="6.1" fill="none" stroke="#008000" stroke-width="1.35"/><path d="M3.95 6.85 L5.65 8.3 L8.95 5.3" fill="none" stroke="#008000" stroke-width="1.45" stroke-linecap="round" stroke-linejoin="round"/></svg></td></tr>
<tr><td class="in">Historique de mes actions</td><td><svg class="ic" viewBox="0 0 14 14"><circle cx="6.55" cy="6.9" r="6.1" fill="none" stroke="#008000" stroke-width="1.35"/><path d="M3.95 6.85 L5.65 8.3 L8.95 5.3" fill="none" stroke="#008000" stroke-width="1.45" stroke-linecap="round" stroke-linejoin="round"/></svg></td><td><svg class="ic" viewBox="0 0 14 14"><circle cx="6.55" cy="6.9" r="6.1" fill="none" stroke="#008000" stroke-width="1.35"/><path d="M3.95 6.85 L5.65 8.3 L8.95 5.3" fill="none" stroke="#008000" stroke-width="1.45" stroke-linecap="round" stroke-linejoin="round"/></svg></td><td><svg class="ic" viewBox="0 0 14 14"><circle cx="6.55" cy="6.9" r="6.1" fill="none" stroke="#008000" stroke-width="1.35"/><path d="M3.95 6.85 L5.65 8.3 L8.95 5.3" fill="none" stroke="#008000" stroke-width="1.45" stroke-linecap="round" stroke-linejoin="round"/></svg></td><td><svg class="ic" viewBox="0 0 14 14"><circle cx="6.55" cy="6.9" r="6.1" fill="none" stroke="#008000" stroke-width="1.35"/><path d="M3.95 6.85 L5.65 8.3 L8.95 5.3" fill="none" stroke="#008000" stroke-width="1.45" stroke-linecap="round" stroke-linejoin="round"/></svg></td><td><svg class="ic" viewBox="0 0 14 14"><circle cx="6.55" cy="6.9" r="6.1" fill="none" stroke="#008000" stroke-width="1.35"/><path d="M3.95 6.85 L5.65 8.3 L8.95 5.3" fill="none" stroke="#008000" stroke-width="1.45" stroke-linecap="round" stroke-linejoin="round"/></svg></td><td><svg class="ic" viewBox="0 0 14 14"><circle cx="6.55" cy="6.9" r="6.1" fill="none" stroke="#008000" stroke-width="1.35"/><path d="M3.95 6.85 L5.65 8.3 L8.95 5.3" fill="none" stroke="#008000" stroke-width="1.45" stroke-linecap="round" stroke-linejoin="round"/></svg></td><td><svg class="ic" viewBox="0 0 14 14"><circle cx="6.55" cy="6.9" r="6.1" fill="none" stroke="#008000" stroke-width="1.35"/><path d="M3.95 6.85 L5.65 8.3 L8.95 5.3" fill="none" stroke="#008000" stroke-width="1.45" stroke-linecap="round" stroke-linejoin="round"/></svg></td><td><svg class="ic" viewBox="0 0 14 14"><circle cx="6.55" cy="6.9" r="6.1" fill="none" stroke="#008000" stroke-width="1.35"/><path d="M3.95 6.85 L5.65 8.3 L8.95 5.3" fill="none" stroke="#008000" stroke-width="1.45" stroke-linecap="round" stroke-linejoin="round"/></svg></td><td><svg class="ic" viewBox="0 0 14 14"><circle cx="6.55" cy="6.9" r="6.1" fill="none" stroke="#008000" stroke-width="1.35"/><path d="M3.95 6.85 L5.65 8.3 L8.95 5.3" fill="none" stroke="#008000" stroke-width="1.45" stroke-linecap="round" stroke-linejoin="round"/></svg></td></tr>
<tr><td class="in">Mes notifications</td><td><svg class="ic" viewBox="0 0 14 14"><circle cx="6.55" cy="6.9" r="6.1" fill="none" stroke="#008000" stroke-width="1.35"/><path d="M3.95 6.85 L5.65 8.3 L8.95 5.3" fill="none" stroke="#008000" stroke-width="1.45" stroke-linecap="round" stroke-linejoin="round"/></svg></td><td><svg class="ic" viewBox="0 0 14 14"><circle cx="6.55" cy="6.9" r="6.1" fill="none" stroke="#008000" stroke-width="1.35"/><path d="M3.95 6.85 L5.65 8.3 L8.95 5.3" fill="none" stroke="#008000" stroke-width="1.45" stroke-linecap="round" stroke-linejoin="round"/></svg></td><td><svg class="ic" viewBox="0 0 14 14"><circle cx="6.55" cy="6.9" r="6.1" fill="none" stroke="#008000" stroke-width="1.35"/><path d="M3.95 6.85 L5.65 8.3 L8.95 5.3" fill="none" stroke="#008000" stroke-width="1.45" stroke-linecap="round" stroke-linejoin="round"/></svg></td><td><svg class="ic" viewBox="0 0 14 14"><circle cx="6.55" cy="6.9" r="6.1" fill="none" stroke="#008000" stroke-width="1.35"/><path d="M3.95 6.85 L5.65 8.3 L8.95 5.3" fill="none" stroke="#008000" stroke-width="1.45" stroke-linecap="round" stroke-linejoin="round"/></svg></td><td><svg class="ic" viewBox="0 0 14 14"><circle cx="6.55" cy="6.9" r="6.1" fill="none" stroke="#008000" stroke-width="1.35"/><path d="M3.95 6.85 L5.65 8.3 L8.95 5.3" fill="none" stroke="#008000" stroke-width="1.45" stroke-linecap="round" stroke-linejoin="round"/></svg></td><td><svg class="ic" viewBox="0 0 14 14"><circle cx="6.55" cy="6.9" r="6.1" fill="none" stroke="#008000" stroke-width="1.35"/><path d="M3.95 6.85 L5.65 8.3 L8.95 5.3" fill="none" stroke="#008000" stroke-width="1.45" stroke-linecap="round" stroke-linejoin="round"/></svg></td><td><svg class="ic" viewBox="0 0 14 14"><circle cx="6.55" cy="6.9" r="6.1" fill="none" stroke="#008000" stroke-width="1.35"/><path d="M3.95 6.85 L5.65 8.3 L8.95 5.3" fill="none" stroke="#008000" stroke-width="1.45" stroke-linecap="round" stroke-linejoin="round"/></svg></td><td><svg class="ic" viewBox="0 0 14 14"><circle cx="6.55" cy="6.9" r="6.1" fill="none" stroke="#008000" stroke-width="1.35"/><path d="M3.95 6.85 L5.65 8.3 L8.95 5.3" fill="none" stroke="#008000" stroke-width="1.45" stroke-linecap="round" stroke-linejoin="round"/></svg></td><td><svg class="ic" viewBox="0 0 14 14"><circle cx="6.55" cy="6.9" r="6.1" fill="none" stroke="#008000" stroke-width="1.35"/><path d="M3.95 6.85 L5.65 8.3 L8.95 5.3" fill="none" stroke="#008000" stroke-width="1.45" stroke-linecap="round" stroke-linejoin="round"/></svg></td></tr>
</tbody></table><div class="sb"></div><div class="sbt"></div><div class="sbl"></div></body></html>
